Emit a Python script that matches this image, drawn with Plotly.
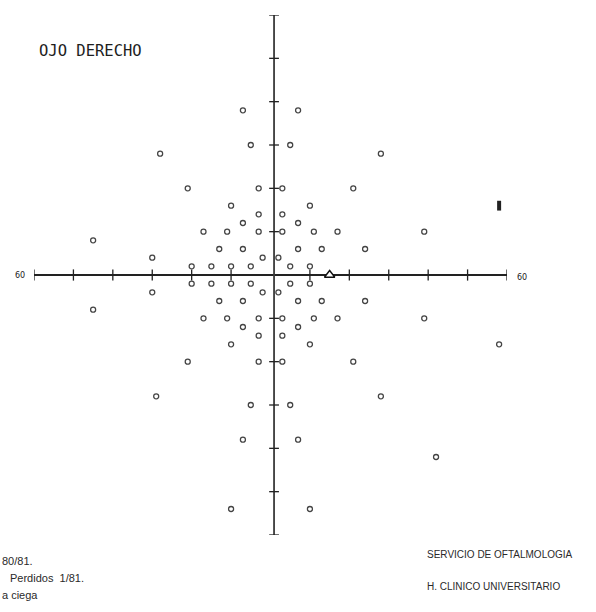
import plotly.graph_objects as go

# ---- data (degrees of visual field) ----
seen_x = [-7, -5, -28, -21, -3, -10, -3, -7, -17, -11, -3, -45, -13, -7, -30, -2, -20, -15, -10, -5,
          7, 5, 28, 3, 21, 10, 3, 7, 3, 11, 17, 39, 7, 13, 24, 2, 5, 10,
          -20, -15, -10, -5, -30, -2, -45, -13, -7, -17, -11, -3, -7, -3, -10, -21, -3, -29, -5, -7, -10,
          5, 10, 2, 7, 13, 24, 3, 11, 17, 39, 7, 3, 10, 58, 3, 21, 28, 5, 7, 42, 10]
seen_y = [38, 30, 28, 20, 20, 16, 14, 12, 10, 10, 10, 8, 6, 6, 4, 4, 2, 2, 2, 2,
          38, 30, 28, 20, 20, 16, 14, 12, 10, 10, 10, 10, 6, 6, 6, 4, 2, 2,
          -2, -2, -2, -2, -4, -4, -8, -6, -6, -10, -10, -10, -12, -14, -16, -20, -20, -28, -30, -38, -54,
          -2, -2, -4, -6, -6, -6, -10, -10, -10, -10, -12, -14, -16, -16, -20, -20, -28, -30, -38, -42, -54]
missed_x = [58]
missed_y = [16]
blind_spot_x = [15]
blind_spot_y = [0]
axis_ticks = [-60, -50, -40, -30, -20, -10, 10, 20, 30, 40, 50, 60]
axis_end_label = "60"
title_text = "OJO DERECHO"
footer_left = ["80/81.", "Perdidos  1/81.", "a ciega"]
footer_right = ["SERVICIO DE OFTALMOLOGIA", "H. CLINICO UNIVERSITARIO"]

V_AXIS_X = 0.9  # slight offset of the printed vertical axis

fig = go.Figure()

# axis lines
fig.add_shape(type="line", x0=-60, x1=60, y0=0, y1=0, line=dict(color="#222", width=1.8), layer="below")
fig.add_shape(type="line", x0=V_AXIS_X, x1=V_AXIS_X, y0=-60, y1=60, line=dict(color="#3a3a3a", width=1.8), layer="below")

# tick marks
fig.add_trace(go.Scatter(x=axis_ticks, y=[0] * len(axis_ticks), mode="markers",
                         marker=dict(symbol="line-ns-open", size=8, color="#222", line=dict(width=1.3)),
                         hoverinfo="skip", showlegend=False))
fig.add_trace(go.Scatter(x=[V_AXIS_X] * len(axis_ticks), y=axis_ticks, mode="markers",
                         marker=dict(symbol="line-ew-open", size=7, color="#222", line=dict(width=1.3)),
                         hoverinfo="skip", showlegend=False))

# seen stimuli
fig.add_trace(go.Scatter(x=seen_x, y=seen_y, mode="markers",
                         marker=dict(symbol="circle-open", size=5, color="#444", line=dict(width=1.3)),
                         showlegend=False, cliponaxis=False))
# missed stimulus
fig.add_trace(go.Scatter(x=missed_x, y=missed_y, mode="markers",
                         marker=dict(symbol="line-ns-open", size=7, color="#222", line=dict(width=4)),
                         showlegend=False, cliponaxis=False))
# blind spot
fig.add_trace(go.Scatter(x=blind_spot_x, y=blind_spot_y, mode="markers",
                         marker=dict(symbol="triangle-up", size=9, color="white", line=dict(color="#111", width=1.4)),
                         showlegend=False, cliponaxis=False))

annotations = [
    dict(x=-60, y=0, xref="x", yref="y", text=axis_end_label, showarrow=False, xshift=-14.5,
         font=dict(family="DejaVu Sans", size=8, color="#222")),
    dict(x=60, y=0, xref="x", yref="y", text=axis_end_label, showarrow=False, xshift=14.5, yshift=-2,
         font=dict(family="DejaVu Sans", size=8, color="#222")),
    dict(x=(37 - 34) / 473, y=(535 - 51) / 520, xref="paper", yref="paper", text=title_text,
         showarrow=False, xanchor="left", yanchor="middle",
         font=dict(family="DejaVu Sans Mono", size=15.5, color="#1e1e1e")),
]
for txt, px_x, px_y in zip(footer_left, [0, 8, 0], [561, 578, 595]):
    annotations.append(dict(x=(px_x - 34) / 473, y=(535 - px_y) / 520, xref="paper", yref="paper",
                            text=txt, showarrow=False, xanchor="left", yanchor="middle",
                            font=dict(family="Liberation Sans", size=11, color="#2a2a2a")))
for txt, px_y in zip(footer_right, [554, 586]):
    annotations.append(dict(x=(425 - 34) / 473, y=(535 - px_y) / 520, xref="paper", yref="paper",
                            text=txt, showarrow=False, xanchor="left", yanchor="middle",
                            font=dict(family="Liberation Sans", size=10, color="#2a2a2a")))

fig.update_layout(
    width=596, height=612,
    margin=dict(l=34, r=89, t=15, b=77),
    paper_bgcolor="white", plot_bgcolor="white",
    xaxis=dict(range=[-60, 60], visible=False, showgrid=False, zeroline=False),
    yaxis=dict(range=[-60, 60], visible=False, showgrid=False, zeroline=False),
    annotations=annotations,
)

fig.write_html("out.html", config={"displayModeBar": False},
               post_script="document.body.style.margin='0';")
